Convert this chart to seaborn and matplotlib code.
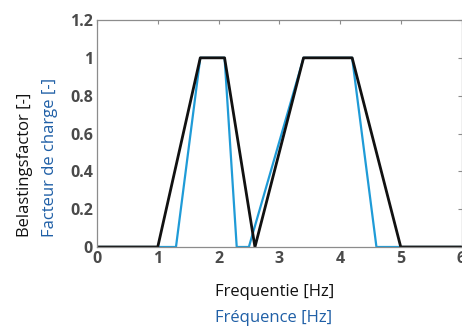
import matplotlib
matplotlib.use("Agg")
import matplotlib.pyplot as plt
import pandas as pd
import seaborn as sns

# 주파수별 하중계수 (NL: zwart, FR: blauw)
freq_nl = [0, 1.0, 1.7, 2.1, 2.6, 3.4, 4.2, 5.0, 6]
load_nl = [0, 0, 1, 1, 0, 1, 1, 0, 0]
freq_fr = [0, 1.3, 1.7, 2.1, 2.3, 2.5, 3.4, 4.2, 4.6, 6]
load_fr = [0, 0, 1, 1, 0, 0, 1, 1, 0, 0]

x_ticks = [0, 1, 2, 3, 4, 5, 6]
y_ticks = [0, 0.2, 0.4, 0.6, 0.8, 1.0, 1.2]
y_tick_labels = ["0", "0.2", "0.4", "0.6", "0.8", "1", "1.2"]

BLACK = "#111111"
BLUE = "#1f9bd7"
LABEL_BLUE = "#1f5fa6"

sns.set_style("white")
plt.rcParams["font.family"] = ["Open Sans", "DejaVu Sans"]

df_nl = pd.DataFrame({"f": freq_nl, "v": load_nl})
df_fr = pd.DataFrame({"f": freq_fr, "v": load_fr})

fig = plt.figure(figsize=(4.62, 3.29), dpi=100)
ax = fig.add_axes([97 / 462, 1 - 247 / 329, (461.5 - 97) / 462, (247 - 20) / 329])

sns.lineplot(data=df_fr, x="f", y="v", ax=ax, color=BLUE, linewidth=1.6, sort=False, estimator=None)
sns.lineplot(data=df_nl, x="f", y="v", ax=ax, color=BLACK, linewidth=2.0, sort=False, estimator=None)

ax.set_xlim(0, 6)
ax.set_ylim(0, 1.2)
ax.set_xticks(x_ticks)
ax.set_yticks(y_ticks)
ax.set_yticklabels(y_tick_labels)
ax.set_xlabel("")
ax.set_ylabel("")
for s in ax.spines.values():
    s.set_color("#8c8c8c")
    s.set_linewidth(0.9)
ax.tick_params(direction="in", length=3, width=0.8, color="#8c8c8c",
               top=True, right=True, labelsize=11.5, labelcolor="#4a4a4a", pad=3)
for lab in ax.get_xticklabels() + ax.get_yticklabels():
    lab.set_fontweight("bold")

# 축 라벨 (두 언어)
fig.text(25 / 462, 1 - 237 / 329, "Belastingsfactor [-]", rotation=90,
         ha="center", va="bottom", fontsize=12, color=BLACK)
fig.text(50 / 462, 1 - 237 / 329, "Facteur de charge [-]", rotation=90,
         ha="center", va="bottom", fontsize=12, color=LABEL_BLUE)
fig.text(215 / 462, 1 - 292 / 329, "Frequentie [Hz]",
         ha="left", va="center", fontsize=12, color=BLACK)
fig.text(215 / 462, 1 - 318 / 329, "Fréquence [Hz]",
         ha="left", va="center", fontsize=12, color=LABEL_BLUE)

fig.savefig("out.png", dpi=100)
